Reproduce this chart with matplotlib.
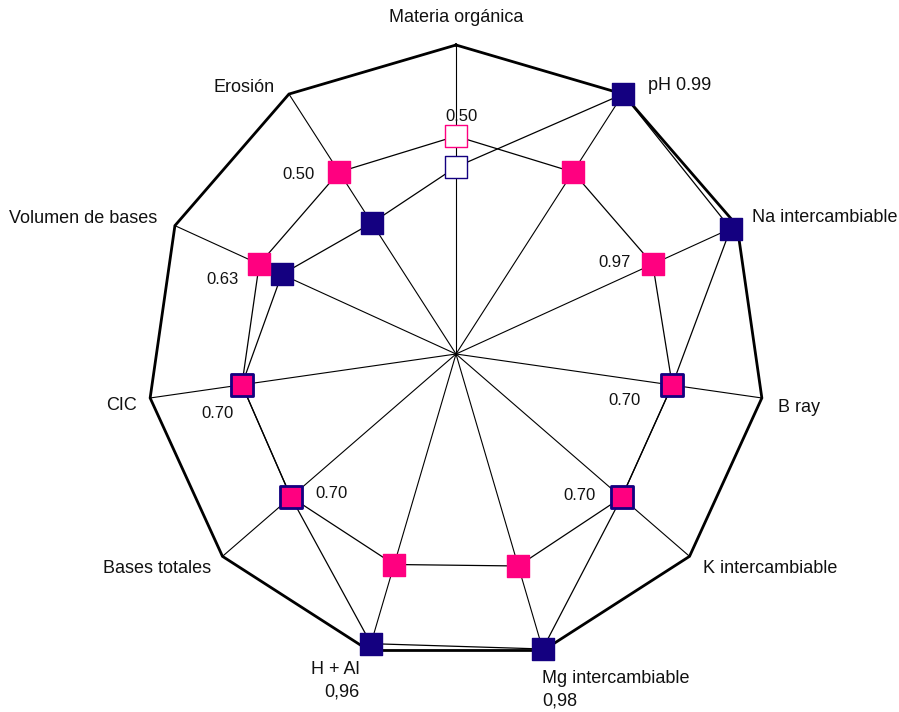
import numpy as np
import matplotlib
matplotlib.use("Agg")
import matplotlib.pyplot as plt

plt.rcParams['font.family'] = ['Liberation Sans', 'DejaVu Sans']

categories = ["Materia orgánica", "pH 0.99", "Na intercambiable", "B ray",
              "K intercambiable", "Mg intercambiable\n0,98", "H + Al\n0,96",
              "Bases totales", "CIC", "Volumen de bases", "Erosión"]
navy_vals = [0.605, 1.0, 0.977, 0.707, 0.709, 0.995, 0.977, 0.707, 0.700, 0.620, 0.504]
pink_vals = [0.705, 0.700, 0.700, 0.707, 0.709, 0.715, 0.710, 0.707, 0.700, 0.700, 0.700]
hollow = [0]  # index of hollow markers
point_labels = ["0.50", "", "0.97", "0.70", "0.70", "", "", "0.70", "0.70", "0.63", "0.50"]

NAVY = "#140080"
PINK = "#FF0080"

# layout (styles): pixel offsets from outer vertex, ha, va
cat_offsets = [(0, -28, 'center', 'center'), (25, -9, 'left', 'center'),
               (15, -8, 'left', 'center'), (16, 10, 'left', 'center'),
               (13, 12, 'left', 'center'), (-1, 20, 'left', 'top'),
               (-9, 11, 'right', 'top'), (-11, 12, 'right', 'center'),
               (-13, 8, 'right', 'center'), (-18, -7, 'right', 'center'),
               (-14, -7, 'right', 'center')]
lab_offsets = [(5, -20), (0, 0), (-38, -2), (-48, 15), (-42, -2), (0, 0), (0, 0),
               (41, -4), (-24, 29), (-37, 15), (-41, 2)]

W, H, DPI = 899, 712, 100
cx, cy, R = 456, 354, 309
fig = plt.figure(figsize=(W / DPI, H / DPI), dpi=DPI)
ax = fig.add_axes([0, 0, 1, 1])
ax.set_xlim(-cx / R, (W - cx) / R)
ax.set_ylim(-(H - cy) / R, cy / R)
ax.set_aspect('equal')
ax.axis('off')

n = len(categories)
theta = np.arange(n) * 2 * np.pi / n

def xy(r):
    r = np.asarray(r)
    return r * np.sin(theta), r * np.cos(theta)

# spokes
ox, oy = xy(np.ones(n))
for i in range(n):
    ax.plot([0, ox[i]], [0, oy[i]], color='black', lw=0.8, zorder=1)
# outer polygon
ax.plot(np.append(ox, ox[0]), np.append(oy, oy[0]), color='black', lw=2.0, zorder=2,
        solid_joinstyle='miter')

px2pt = 72 / DPI
# series lines
for vals in (navy_vals, pink_vals):
    x, y = xy(vals)
    ax.plot(np.append(x, x[0]), np.append(y, y[0]), color='black', lw=0.9, zorder=3)

ms = 22 * px2pt
# navy markers
nx, ny = xy(navy_vals)
nface = ['white' if i in hollow else NAVY for i in range(n)]
ax.scatter(nx, ny, s=ms ** 2, marker='s', c=nface, edgecolors=NAVY, linewidths=1.0, zorder=4)
# pink markers
pxs, pys = xy(pink_vals)
pface = ['white' if i in hollow else PINK for i in range(n)]
same = [abs(navy_vals[i] - pink_vals[i]) < 0.01 for i in range(n)]
pedge = [NAVY if s else PINK for s in same]
plw = [2.0 if s else 1.0 for s in same]
ax.scatter(pxs, pys, s=ms ** 2, marker='s', c=pface, edgecolors=pedge, linewidths=plw, zorder=5)

# category labels
for i, lab in enumerate(categories):
    dx, dy, ha, va = cat_offsets[i]
    ax.annotate(lab, (ox[i], oy[i]), xytext=(dx * px2pt, -dy * px2pt),
                textcoords='offset points', ha=ha, va=va, fontsize=13,
                color='#111111', linespacing=1.35, zorder=6)

# data labels
for i, lab in enumerate(point_labels):
    if not lab:
        continue
    dx, dy = lab_offsets[i]
    ax.annotate(lab, (pxs[i], pys[i]), xytext=(dx * px2pt, -dy * px2pt),
                textcoords='offset points', ha='center', va='center', fontsize=12,
                color='#111111', zorder=6)

fig.savefig("out.png", dpi=DPI)
